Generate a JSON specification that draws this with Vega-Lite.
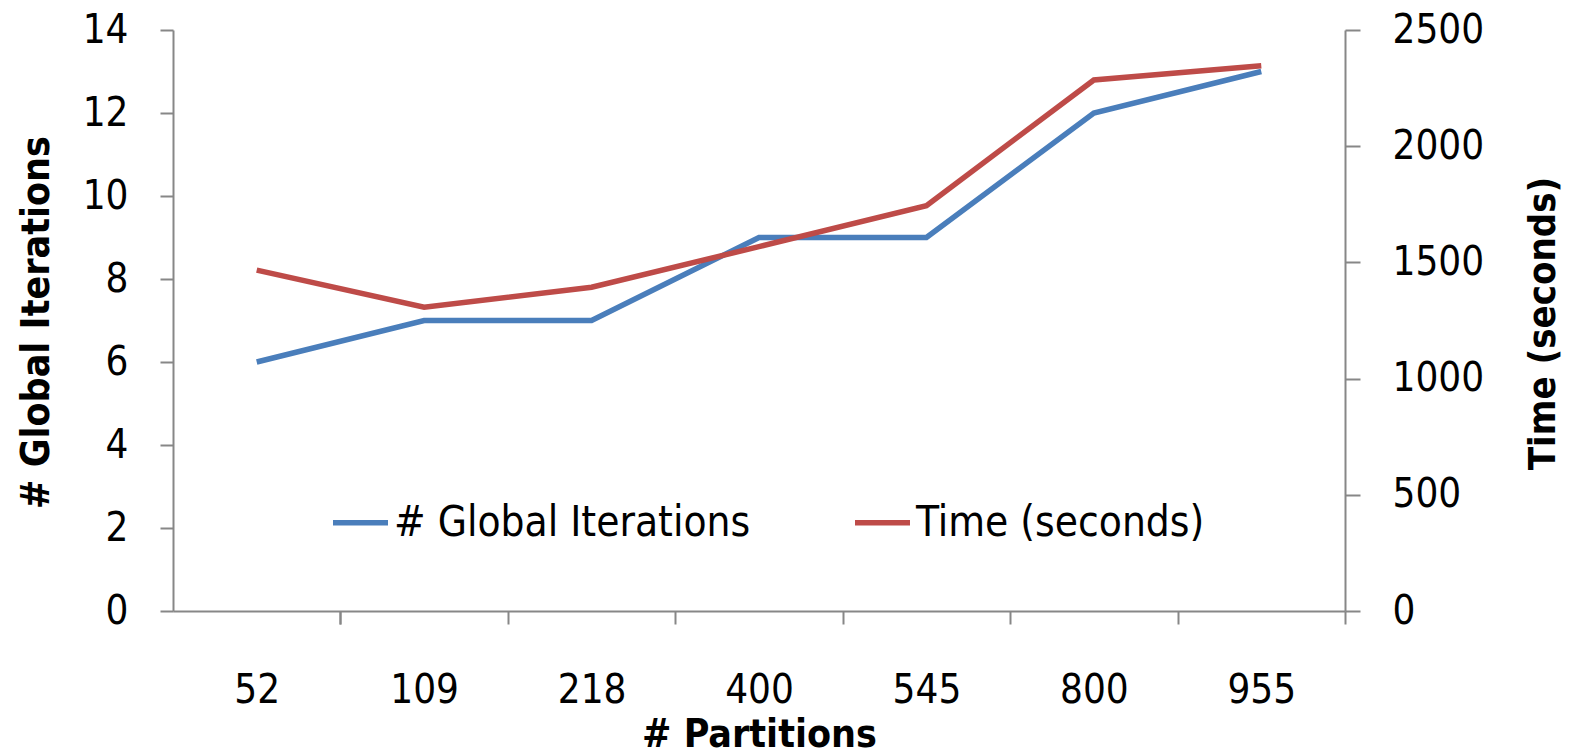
{
  "$schema": "https://vega.github.io/schema/vega-lite/v6.json",
  "width": 1172,
  "height": 581,
  "autosize": "none",
  "padding": {"left": 173, "top": 30, "right": 232, "bottom": 143},
  "background": "white",
  "config": {
    "view": {"stroke": null},
    "axis": {
      "grid": false,
      "domainColor": "#878787",
      "tickColor": "#878787",
      "domainWidth": 2,
      "tickWidth": 2,
      "labelColor": "black",
      "titleColor": "black"
    }
  },
  "data": {
    "values": [
      {"partitions": "52", "iterations": 6, "time": 1467},
      {"partitions": "109", "iterations": 7, "time": 1307},
      {"partitions": "218", "iterations": 7, "time": 1393},
      {"partitions": "400", "iterations": 9, "time": 1568},
      {"partitions": "545", "iterations": 9, "time": 1744},
      {"partitions": "800", "iterations": 12, "time": 2285},
      {"partitions": "955", "iterations": 13, "time": 2346}
    ]
  },
  "encoding": {
    "x": {
      "field": "partitions",
      "type": "ordinal",
      "sort": null,
      "scale": {"padding": 0.5},
      "axis": {
        "title": "# Partitions",
        "labelAngle": 0,
        "labelFont": "DejaVu Sans Condensed, DejaVu Sans, sans-serif",
        "labelFontSize": 40,
        "labelBaseline": "alphabetic",
        "tickSize": 13,
        "labelPadding": 78,
        "tickOffset": 83.7,
        "labelOffset": -83.7,
        "tickExtra": true,
        "titleFont": "DejaVu Sans Condensed, DejaVu Sans, sans-serif",
        "titleFontSize": 39,
        "titleFontWeight": "bold",
        "titleBaseline": "alphabetic",
        "titleY": 135
      }
    }
  },
  "layer": [
    {
      "mark": {"type": "line", "strokeWidth": 5.5},
      "encoding": {
        "y": {
          "field": "iterations",
          "type": "quantitative",
          "scale": {"domain": [0, 14]},
          "axis": {
            "orient": "left",
            "title": "# Global Iterations",
            "values": [0, 2, 4, 6, 8, 10, 12, 14],
            "labelFont": "DejaVu Sans Condensed, DejaVu Sans, sans-serif",
            "labelFontSize": 40,
            "tickSize": 13,
            "labelPadding": 32,
            "titleFont": "DejaVu Sans Condensed, DejaVu Sans, sans-serif",
            "titleFontSize": 39,
            "titleFontWeight": "bold",
            "titleAngle": -90,
            "titleBaseline": "alphabetic",
            "titleX": -125,
            "titleY": 292
          }
        },
        "color": {
          "datum": "# Global Iterations",
          "type": "nominal",
          "scale": {
            "domain": ["# Global Iterations", "Time (seconds)"],
            "range": ["#4A7EBB", "#BE4B48"]
          },
          "legend": {
            "title": null,
            "orient": "none",
            "direction": "horizontal",
            "legendX": 157,
            "legendY": 462,
            "padding": 0,
            "symbolType": "stroke",
            "symbolSize": 3025,
            "symbolStrokeWidth": 5.5,
            "labelOffset": 3,
            "columnPadding": 93,
            "labelFont": "DejaVu Sans Condensed, DejaVu Sans, sans-serif",
            "labelFontSize": 42,
            "labelColor": "black",
            "labelLimit": 1000
          }
        }
      }
    },
    {
      "mark": {"type": "line", "strokeWidth": 5.5},
      "encoding": {
        "y": {
          "field": "time",
          "type": "quantitative",
          "scale": {"domain": [0, 2500]},
          "axis": {
            "orient": "right",
            "title": "Time (seconds)",
            "values": [0, 500, 1000, 1500, 2000, 2500],
            "format": "d",
            "labelFont": "DejaVu Sans Condensed, DejaVu Sans, sans-serif",
            "labelFontSize": 40,
            "tickSize": 15,
            "labelPadding": 32,
            "titleFont": "DejaVu Sans Condensed, DejaVu Sans, sans-serif",
            "titleFontSize": 38,
            "titleFontWeight": "bold",
            "titleAngle": -90,
            "titleBaseline": "alphabetic",
            "titleX": 209,
            "titleY": 293
          }
        },
        "color": {"datum": "Time (seconds)", "type": "nominal"}
      }
    }
  ],
  "resolve": {"scale": {"y": "independent"}}
}
